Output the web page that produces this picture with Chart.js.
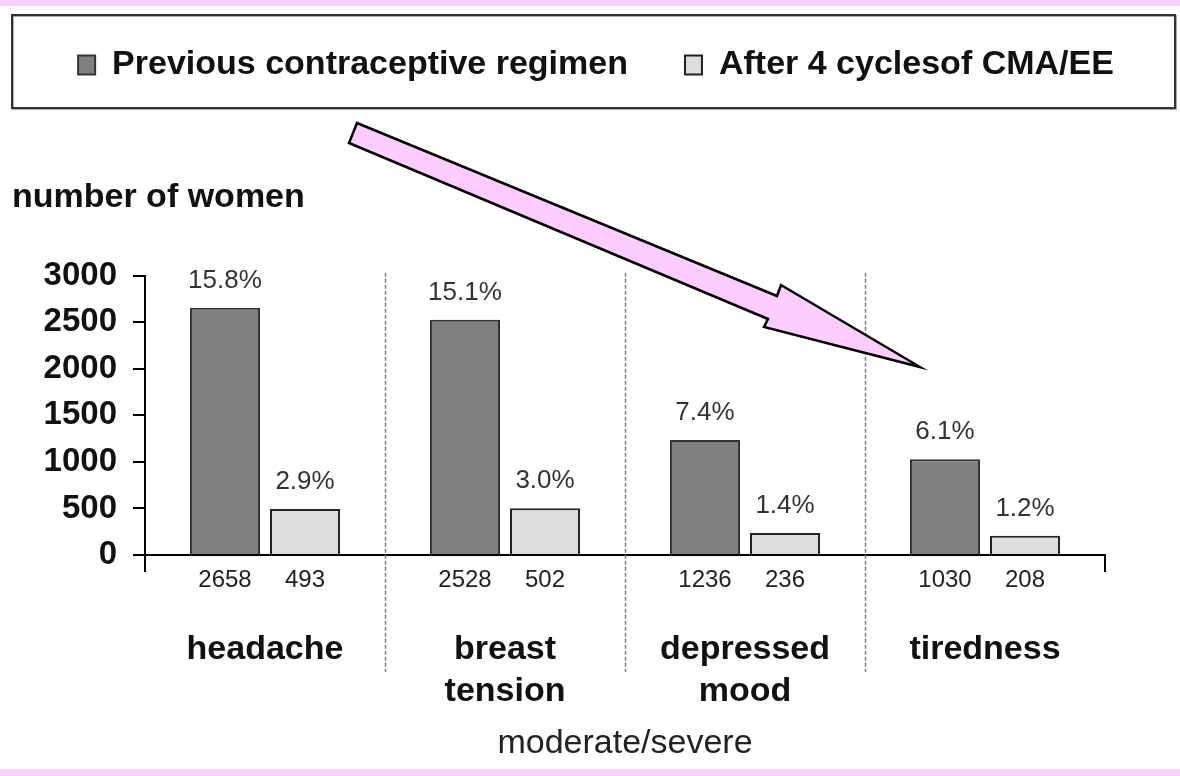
<!DOCTYPE html>
<html>
<head>
<meta charset="utf-8">
<script src="https://cdn.jsdelivr.net/npm/chart.js@4"></script>
<style>
  html, body { margin: 0; padding: 0; background: #fff; }
  #wrap { width: 1180px; height: 776px; position: relative; }
</style>
</head>
<body>
<div id="wrap"><canvas id="myChart"></canvas></div>
<script>
var categories = [['headache'], ['breast', 'tension'], ['depressed', 'mood'], ['tiredness']];
var seriesNames = ['Previous contraceptive regimen', 'After 4 cyclesof CMA/EE'];
var previousValues = [2658, 2528, 1236, 1030];
var afterValues = [493, 502, 236, 208];
var previousPercent = [15.8, 15.1, 7.4, 6.1];
var afterPercent = [2.9, 3.0, 1.4, 1.2];
var yTicks = [0, 500, 1000, 1500, 2000, 2500, 3000];

var FONT = "'Liberation Sans', Arial, Helvetica, sans-serif";
var percents = [previousPercent, afterPercent];

// pink bands, legend frame, dividers, labels and the arrow
var decorations = {
    id: 'decorations',
    beforeDraw: function(chart) {
        var ctx = chart.ctx;
        ctx.save();
        ctx.fillStyle = '#fcd0fc';
        ctx.fillRect(0, 0, chart.width, 6);
        ctx.fillRect(0, chart.height - 7, chart.width, 7);
        ctx.restore();
    },
    afterDraw: function(chart) {
        var ctx = chart.ctx;
        var area = chart.chartArea;
        var xs = chart.scales.x;
        var ys = chart.scales.y;
        ctx.save();

        // legend frame
        ctx.strokeStyle = '#aaa';
        ctx.lineWidth = 2;
        ctx.strokeRect(13, 16, 1163, 93);
        ctx.strokeStyle = '#333';
        ctx.strokeRect(12, 15, 1163, 93);

        // end tick of the x axis
        ctx.strokeStyle = '#000';
        ctx.lineWidth = 2;
        ctx.beginPath();
        ctx.moveTo(area.right, area.bottom);
        ctx.lineTo(area.right, area.bottom + 17);
        ctx.stroke();

        // dashed dividers between categories
        ctx.strokeStyle = '#808080';
        ctx.lineWidth = 1.5;
        ctx.setLineDash([4, 2]);
        for (let i = 1; i < categories.length; i++) {
            let x = Math.round((xs.getPixelForValue(i - 1) + xs.getPixelForValue(i)) / 2) + 0.5;
            ctx.beginPath();
            ctx.moveTo(x, area.top - 3);
            ctx.lineTo(x, area.bottom + 117);
            ctx.stroke();
        }
        ctx.setLineDash([]);

        // percent above bars, counts below axis
        ctx.textAlign = 'center';
        ctx.textBaseline = 'middle';
        chart.data.datasets.forEach(function(ds, di) {
            var meta = chart.getDatasetMeta(di);
            meta.data.forEach(function(bar, i) {
                ctx.fillStyle = '#333';
                ctx.font = '26px ' + FONT;
                ctx.fillText(percents[di][i].toFixed(1) + '%', bar.x, bar.y - 27);
                ctx.fillStyle = '#222';
                ctx.font = '24px ' + FONT;
                ctx.fillText(String(ds.data[i]), bar.x, ys.getPixelForValue(0) + 25);
            });
        });

        // pink arrow
        var arrow = [[357, 123], [777, 296], [781, 285], [920, 367], [764, 327], [768, 319], [349, 143]];
        ctx.beginPath();
        arrow.forEach(function(p, i) {
            if (i == 0) ctx.moveTo(p[0], p[1]); else ctx.lineTo(p[0], p[1]);
        });
        ctx.closePath();
        ctx.fillStyle = '#ffccff';
        ctx.fill();
        ctx.strokeStyle = '#000';
        ctx.lineWidth = 2.5;
        ctx.lineJoin = 'miter';
        ctx.stroke();
        ctx.restore();
    }
};

var ctx = document.getElementById('myChart');
var myChart = new Chart(ctx, {
    type: 'bar',
    data: {
        labels: categories,
        datasets: [
            {
                label: seriesNames[0],
                data: previousValues,
                backgroundColor: '#808080',
                borderColor: '#333',
                borderWidth: 2,
                categoryPercentage: 0.667,
                barPercentage: 0.875
            },
            {
                label: seriesNames[1],
                data: afterValues,
                backgroundColor: '#dcdcdc',
                borderColor: '#222',
                borderWidth: 2,
                categoryPercentage: 0.667,
                barPercentage: 0.875
            }
        ]
    },
    options: {
        responsive: true,
        maintainAspectRatio: false,
        animation: false,
        devicePixelRatio: 1,
        layout: { padding: { top: -9, left: 12, right: 0, bottom: 0 } },
        plugins: {
            tooltip: { enabled: false },
            legend: {
                position: 'top',
                labels: {
                    boxWidth: 17,
                    boxHeight: 19,
                    padding: 57,
                    color: '#111',
                    font: { family: FONT, size: 34, weight: 'bold' }
                }
            },
            title: {
                display: true,
                text: 'number of women',
                position: 'top',
                weight: 500,
                align: 'start',
                color: '#111',
                padding: { top: 85, bottom: 58 },
                font: { family: FONT, size: 34, weight: 'bold' }
            }
        },
        scales: {
            x: {
                grid: {
                    drawOnChartArea: false,
                    tickLength: 17,
                    lineWidth: 2,
                    color: function(c) {
                        return c.index == 0 ? '#000' : 'rgba(0,0,0,0)';
                    }
                },
                border: { color: '#000', width: 2 },
                ticks: {
                    padding: 56,
                    color: '#111',
                    maxRotation: 0,
                    font: { family: FONT, size: 34, weight: 'bold', lineHeight: 1.25 }
                },
                title: {
                    display: true,
                    text: 'moderate/severe',
                    color: '#222',
                    padding: { top: 0, bottom: 12 },
                    font: { family: FONT, size: 34 }
                },
                afterFit: function(scale) { scale.height = 221; }
            },
            y: {
                min: yTicks[0],
                max: yTicks[yTicks.length - 1],
                afterBuildTicks: function(scale) {
                    scale.ticks = yTicks.map(function(v) { return { value: v }; });
                },
                grid: { drawOnChartArea: false, tickLength: 12, lineWidth: 2, color: '#000' },
                border: { color: '#000', width: 2 },
                ticks: {
                    padding: 16,
                    color: '#111',
                    font: { family: FONT, size: 33, weight: 'bold' },
                    callback: function(v) { return String(v); }
                },
                afterFit: function(scale) { scale.width = 133; }
            },
            y2: {
                position: 'right',
                display: true,
                grid: { display: false },
                border: { display: false },
                ticks: { display: false },
                afterFit: function(scale) { scale.width = 75; }
            }
        }
    },
    plugins: [decorations]
});
</script>
</body>
</html>
